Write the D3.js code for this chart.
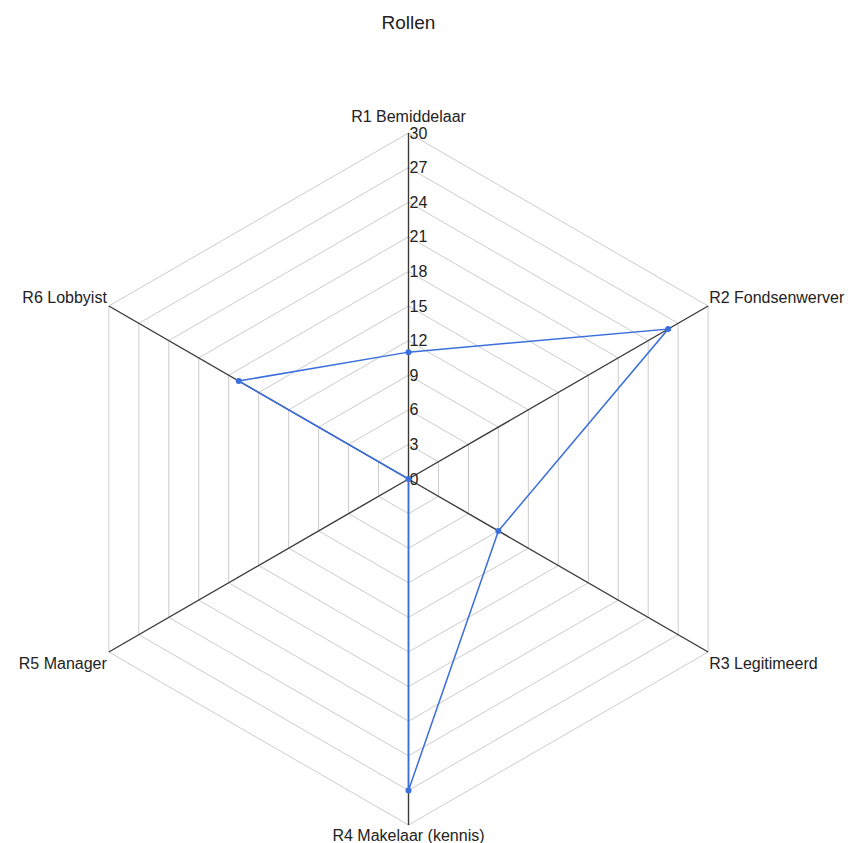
<!DOCTYPE html>
<html>
<head>
<meta charset="utf-8">
<script src="https://cdn.jsdelivr.net/npm/d3@7"></script>
<style>
  html, body { margin: 0; padding: 0; background: #fff; }
  svg { display: block; font-family: "Liberation Sans", Arial, sans-serif; }
</style>
</head>
<body>
<svg id="chart" width="857" height="843"></svg>
<script>
// Radar chart data
const title = "Rollen";
const categories = ["R1 Bemiddelaar", "R2 Fondsenwerver", "R3 Legitimeerd", "R4 Makelaar (kennis)", "R5 Manager", "R6 Lobbyist"];
const values = [11, 26, 9, 27, 0, 17];
const tickValues = [0, 3, 6, 9, 12, 15, 18, 21, 24, 27, 30];
const maxValue = 30;

const svg = d3.select("#chart");
const cx = 408.5, cy = 479, radius = 346;
const fontSize = 16;

const r = d3.scaleLinear().domain([0, maxValue]).range([0, radius]);
const angle = d3.scalePoint().domain(categories).range([0, 2 * Math.PI * (categories.length - 1) / categories.length]);

const pt = (cat, v) => {
  const a = angle(cat);
  return [cx + r(v) * Math.sin(a), cy - r(v) * Math.cos(a)];
};

// Title
svg.append("text")
  .attr("x", cx).attr("y", 29)
  .attr("text-anchor", "middle")
  .attr("font-size", 19)
  .attr("fill", "#222")
  .text(title);

// Grid hexagons
const grid = svg.append("g");
tickValues.filter(t => t > 0).forEach(t => {
  grid.append("polygon")
    .attr("points", categories.map(c => pt(c, t).join(",")).join(" "))
    .attr("fill", "none")
    .attr("stroke", "#cccccc")
    .attr("stroke-width", 1);
});

// Axes
const axes = svg.append("g");
categories.forEach(c => {
  const [x, y] = pt(c, maxValue);
  axes.append("line")
    .attr("x1", cx).attr("y1", cy)
    .attr("x2", x).attr("y2", y)
    .attr("stroke", "#3a3a3a")
    .attr("stroke-width", 1.4);
});

// Tick labels along the first axis
const ticks = svg.append("g");
tickValues.forEach(t => {
  ticks.append("text")
    .attr("x", cx + 1)
    .attr("y", cy - r(t))
    .attr("dy", "0.35em")
    .attr("font-size", fontSize)
    .attr("fill", "#222")
    .text(t);
});

// Axis labels: above the tip on upper axes, below the tip on lower axes
const labels = svg.append("g");
categories.forEach(c => {
  const a = angle(c);
  const [x, y] = pt(c, maxValue);
  const s = Math.sin(a), co = Math.cos(a);
  let anchor, tx = x, ty;
  if (Math.abs(s) < 1e-6) {
    anchor = "middle";
    ty = co > 0 ? y - 11 : y + 16;
  } else {
    anchor = s > 0 ? "start" : "end";
    tx = x + (s > 0 ? 1 : -2);
    ty = co > 0 ? y - 3.5 : y + 17;
  }
  labels.append("text")
    .attr("x", tx).attr("y", ty)
    .attr("text-anchor", anchor)
    .attr("font-size", fontSize)
    .attr("fill", "#222")
    .text(c);
});

// Data series
const series = svg.append("g");
const line = d3.line().curve(d3.curveLinearClosed);
const pts = categories.map((c, i) => pt(c, values[i]));
series.append("path")
  .attr("d", line(pts))
  .attr("fill", "none")
  .attr("stroke", "#3b6fdc")
  .attr("stroke-width", 1.5);
series.selectAll("circle")
  .data(pts)
  .join("circle")
  .attr("cx", d => d[0]).attr("cy", d => d[1])
  .attr("r", 3)
  .attr("fill", "#3b6fdc");
</script>
</body>
</html>
